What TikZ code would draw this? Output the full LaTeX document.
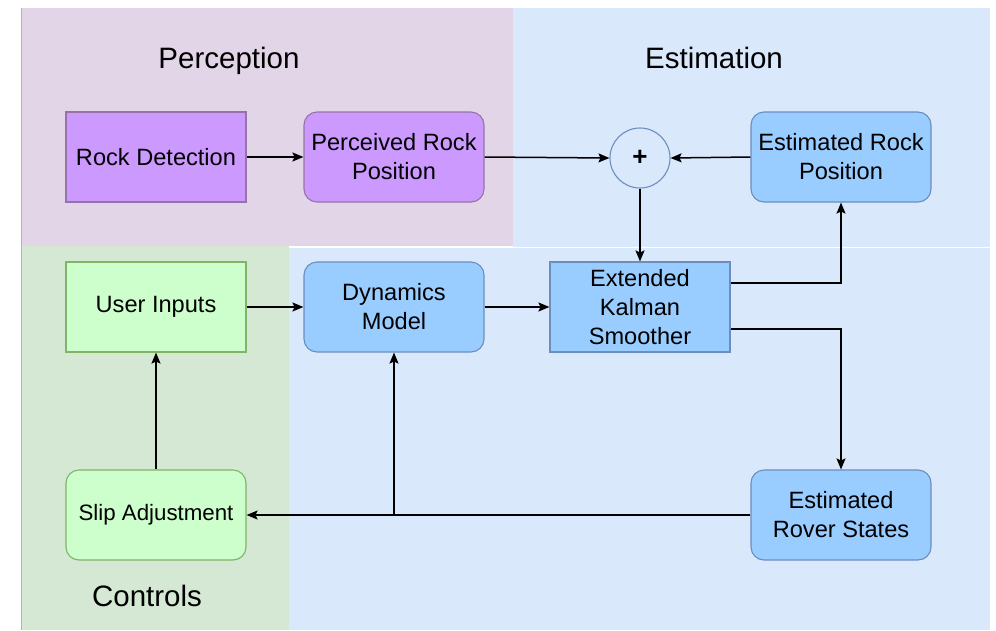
\documentclass[tikz,border=0pt]{standalone}
\usepackage{fontspec}
\setmainfont{Liberation Sans}
\usetikzlibrary{arrows.meta}
\definecolor{regpurple}{HTML}{E1D5E7}
\definecolor{regblue}{HTML}{DAE8FC}
\definecolor{reggreen}{HTML}{D5E8D4}
\definecolor{boxpurple}{HTML}{CC99FF}
\definecolor{linepurple}{HTML}{9673A6}
\definecolor{boxblue}{HTML}{99CCFF}
\definecolor{lineblue}{HTML}{6C8EBF}
\definecolor{boxgreen}{HTML}{CCFFCC}
\definecolor{linegreen}{HTML}{82B366}
\tikzset{
  basebox/.style={minimum width=180pt, minimum height=90pt, inner sep=0pt, align=center,
    font=\fontsize{23.6}{29}\selectfont, line width=1.1pt},
  purplebox/.style={basebox, fill=boxpurple, draw=linepurple},
  bluebox/.style={basebox, fill=boxblue, draw=lineblue},
  greenbox/.style={basebox, fill=boxgreen, draw=linegreen},
  roundbox/.style={rounded corners=13pt},
  sumnode/.style={circle, minimum size=60pt, inner sep=0pt, fill=regblue, draw=lineblue, line width=1.1pt,
    font=\fontsize{26}{30}\selectfont\bfseries},
  regiontitle/.style={font=\fontsize{29.5}{34}\selectfont, inner sep=0pt, anchor=base},
  conn/.style={line width=1.5pt, -{Stealth[length=11pt, width=9pt, inset=2pt]}},
  plainline/.style={line width=1.5pt}
}
\begin{document}
\begin{tikzpicture}[x=1pt, y=-1pt]
\useasboundingbox (0,0) rectangle (996,630);
\fill[white] (0,0) rectangle (996,630);
% regions
\fill[regpurple] (21,8) rectangle (513,246);
\fill[regblue] (513,8) rectangle (990,246.5);
\fill[reggreen] (21,246) rectangle (289,630);
\fill[regblue] (289,247.5) rectangle (990,630);
\draw[gray!60, line width=0.8pt] (21,8) -- (21,630);
% titles
\node[regiontitle] (tperc) at (229,68) {Perception};
\node[regiontitle] (test) at (714,68) {Estimation};
\node[regiontitle] (tctrl) at (147,606) {Controls};
% boxes
\node[purplebox] (rock) at (156,157) {Rock Detection};
\node[purplebox, roundbox] (perc) at (394,157) {Perceived Rock\\Position};
\node[sumnode] (sum) at (640,158) {+};
\node[bluebox, roundbox] (estrock) at (841,157) {Estimated Rock\\Position};
\node[greenbox] (user) at (156,307) {User Inputs};
\node[bluebox, roundbox] (dyn) at (394,307) {Dynamics\\Model};
\node[bluebox] (eks) at (640,307) {Extended\\Kalman\\Smoother};
\node[greenbox, roundbox, font=\fontsize{22.3}{27}\selectfont] (slip) at (156,515) {Slip Adjustment};
\node[bluebox, roundbox] (rover) at (841,515) {Estimated\\Rover States};
% connectors
\draw[conn] (rock) -- (perc);
\draw[conn] (perc.east) -- (sum.west);
\draw[conn] (estrock.west) -- (sum.east);
\draw[conn] (sum) -- (eks);
\draw[conn] (user) -- (dyn);
\draw[conn] (dyn) -- (eks);
\draw[conn] ([yshift=24pt]eks.east) -| (estrock.south);
\draw[conn] ([yshift=-22pt]eks.east) -| (rover.north);
\draw[conn] (rover.west) -- (slip.east);
\coordinate (branch) at (dyn.south |- slip.east);
\draw[conn] (branch) -- (dyn.south);
\draw[conn] (slip) -- (user);
\end{tikzpicture}
\end{document}
